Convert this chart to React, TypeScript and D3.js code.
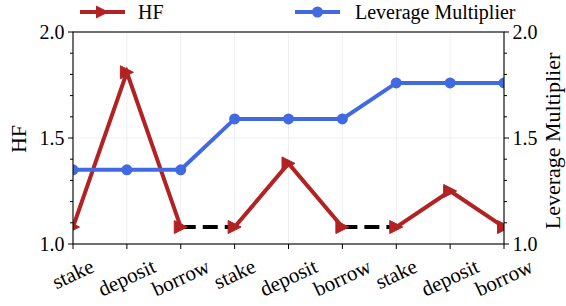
import React, { useEffect, useRef } from "react";
import * as d3 from "d3";

const categories = ["stake", "deposit", "borrow", "stake", "deposit", "borrow", "stake", "deposit", "borrow"];
const hfValues = [1.08, 1.81, 1.08, 1.08, 1.38, 1.08, 1.08, 1.25, 1.08];
const leverageValues = [1.35, 1.35, 1.35, 1.59, 1.59, 1.59, 1.76, 1.76, 1.76];
const yTicks = [1.0, 1.5, 2.0];
const yMinorTicks = [1.1, 1.2, 1.3, 1.4, 1.6, 1.7, 1.8, 1.9];
const hfSegments = [[0, 2], [3, 5], [6, 8]];
const dashedSegments = [[2, 3], [5, 6]];

const RED = "#b22222";
const BLUE = "#4169e1";
const FONT = "'Liberation Serif', 'Times New Roman', serif";

export default function App() {
  const ref = useRef<SVGSVGElement>(null);

  useEffect(() => {
    const svg = d3.select(ref.current);
    svg.selectAll("*").remove();
    const m = { left: 73, right: 504, top: 32, bottom: 244 };

    const x = d3.scalePoint<number>().domain(d3.range(categories.length)).range([m.left, m.right]);
    const yL = d3.scaleLinear().domain([1.0, 2.0]).range([m.bottom, m.top]);
    const yR = d3.scaleLinear().domain([1.0, 2.0]).range([m.bottom, m.top]);

    svg.append("defs").append("clipPath").attr("id", "plotclip")
      .append("rect").attr("x", m.left).attr("y", m.top)
      .attr("width", m.right - m.left).attr("height", m.bottom - m.top);

    // grid
    const g = svg.append("g");
    g.selectAll("line.vg").data(d3.range(categories.length)).join("line")
      .attr("x1", (d) => x(d)!).attr("x2", (d) => x(d)!)
      .attr("y1", m.top).attr("y2", m.bottom)
      .attr("stroke", "#ebebeb").attr("stroke-width", 0.8);
    g.selectAll("line.hg").data(yTicks).join("line")
      .attr("x1", m.left).attr("x2", m.right)
      .attr("y1", (d) => yL(d)).attr("y2", (d) => yL(d))
      .attr("stroke", "#ebebeb").attr("stroke-width", 0.8);

    const plot = svg.append("g").attr("clip-path", "url(#plotclip)");

    // dashed connectors
    dashedSegments.forEach(([a, b]) => {
      plot.append("line")
        .attr("x1", x(a)!).attr("x2", x(b)!)
        .attr("y1", yL(hfValues[a])).attr("y2", yL(hfValues[b]))
        .attr("stroke", "black").attr("stroke-width", 4)
        .attr("stroke-dasharray", "15,7");
    });

    const lineHF = d3.line<number>().x((i) => x(i)!).y((i) => yL(hfValues[i]));
    hfSegments.forEach(([a, b]) => {
      plot.append("path").datum(d3.range(a, b + 1))
        .attr("d", lineHF).attr("fill", "none")
        .attr("stroke", RED).attr("stroke-width", 4).attr("stroke-linejoin", "miter");
    });
    const tri = (r: number) => `M${r},0L${-r},${-r}L${-r},${r}Z`;
    plot.selectAll("path.tri").data(d3.range(categories.length)).join("path")
      .attr("d", tri(6.5))
      .attr("transform", (i) => `translate(${x(i)},${yL(hfValues[i])})`)
      .attr("fill", RED).attr("stroke", RED).attr("stroke-width", 1);

    const lineLev = d3.line<number>().x((d, i) => x(i)!).y((d) => yR(d));
    plot.append("path").datum(leverageValues)
      .attr("d", lineLev).attr("fill", "none")
      .attr("stroke", BLUE).attr("stroke-width", 4);
    plot.selectAll("circle.lev").data(leverageValues).join("circle")
      .attr("cx", (d, i) => x(i)!).attr("cy", (d) => yR(d)).attr("r", 5.5)
      .attr("fill", BLUE);

    // spines
    svg.append("rect").attr("x", m.left).attr("y", m.top)
      .attr("width", m.right - m.left).attr("height", m.bottom - m.top)
      .attr("fill", "none").attr("stroke", "black").attr("stroke-width", 1.1);

    const ax = svg.append("g").attr("stroke", "black").attr("stroke-width", 1);
    d3.range(categories.length).forEach((i) => {
      ax.append("line").attr("x1", x(i)!).attr("x2", x(i)!).attr("y1", m.bottom).attr("y2", m.bottom + 5);
    });
    yTicks.forEach((t) => {
      ax.append("line").attr("x1", m.left - 5).attr("x2", m.left).attr("y1", yL(t)).attr("y2", yL(t));
      ax.append("line").attr("x1", m.right).attr("x2", m.right + 5).attr("y1", yR(t)).attr("y2", yR(t));
    });
    yMinorTicks.forEach((t) => {
      ax.append("line").attr("x1", m.left - 3).attr("x2", m.left).attr("y1", yL(t)).attr("y2", yL(t));
      ax.append("line").attr("x1", m.right).attr("x2", m.right + 3).attr("y1", yR(t)).attr("y2", yR(t));
    });

    const fmt = d3.format(".1f");
    svg.selectAll("text.yl").data(yTicks).join("text")
      .attr("x", m.left - 8.5).attr("y", (d) => yL(d)).attr("dy", "0.34em")
      .attr("text-anchor", "end").attr("font-family", FONT).attr("font-size", 20)
      .text((d) => fmt(d));
    svg.selectAll("text.yr").data(yTicks).join("text")
      .attr("x", m.right + 8.5).attr("y", (d) => yR(d)).attr("dy", "0.34em")
      .attr("text-anchor", "start").attr("font-family", FONT).attr("font-size", 20)
      .text((d) => fmt(d));

    // x labels rotated 25 deg, centred under ticks
    const theta = (25 * Math.PI) / 180;
    const fs = 21;
    categories.forEach((c, i) => {
      const t = svg.append("text").attr("font-family", FONT).attr("font-size", fs)
        .attr("text-anchor", "middle").attr("dy", "0.33em").text(c);
      const w = (t.node() as SVGTextElement).getComputedTextLength();
      const hh = w * Math.sin(theta) + fs * 1.15 * Math.cos(theta);
      const cy = m.bottom + 10 + hh / 2;
      t.attr("transform", `translate(${x(i)},${cy}) rotate(-25)`);
    });

    // axis labels
    svg.append("text").attr("transform", `translate(26,139) rotate(-90)`)
      .attr("text-anchor", "middle").attr("font-family", FONT).attr("font-size", 22).text("HF");
    svg.append("text").attr("transform", `translate(560,141) rotate(-90)`)
      .attr("text-anchor", "middle").attr("font-family", FONT).attr("font-size", 22).text("Leverage Multiplier");

    // legend
    const lg = svg.append("g");
    lg.append("line").attr("x1", 80).attr("x2", 125).attr("y1", 12).attr("y2", 12)
      .attr("stroke", RED).attr("stroke-width", 4);
    lg.append("path").attr("d", tri(6.5)).attr("transform", "translate(102.5,12)").attr("fill", RED);
    lg.append("text").attr("x", 138).attr("y", 19).attr("font-family", FONT).attr("font-size", 20).text("HF");
    lg.append("line").attr("x1", 295).attr("x2", 340).attr("y1", 12).attr("y2", 12)
      .attr("stroke", BLUE).attr("stroke-width", 4);
    lg.append("circle").attr("cx", 317.5).attr("cy", 12).attr("r", 5.5).attr("fill", BLUE);
    lg.append("text").attr("x", 355).attr("y", 19).attr("font-family", FONT).attr("font-size", 20).text("Leverage Multiplier");
  }, []);

  return (
    <svg ref={ref} width={566} height={306}
      style={{ position: "absolute", left: 0, top: 0, background: "white" }} />
  );
}
